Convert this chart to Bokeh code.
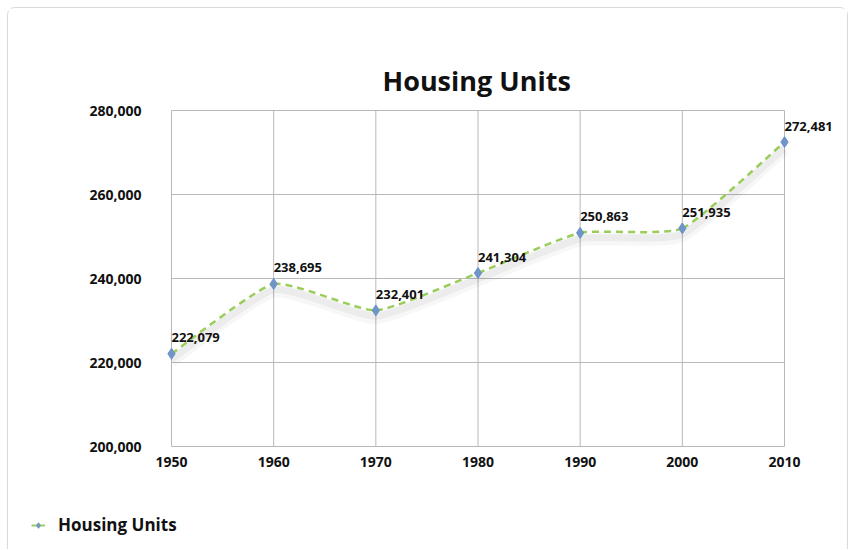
from bokeh.plotting import figure
from bokeh.models import ColumnDataSource, FixedTicker, Legend, LegendItem, NumeralTickFormatter, Range1d
from bokeh.core.properties import value
from bokeh.embed import file_html
from bokeh.resources import INLINE

years = [1950, 1960, 1970, 1980, 1990, 2000, 2010]
units = [222079, 238695, 232401, 241304, 250863, 251935, 272481]
labels = ["222,079", "238,695", "232,401", "241,304", "250,863", "251,935", "272,481"]
y_ticks = [200000, 220000, 240000, 260000, 280000]
series_name = "Housing Units"

FONT = "Open Sans"
LINE_COLOR = "#9ACD5A"
MARK_COLOR = "#6E94C8"
TXT = "#111111"
GRID = "#b8b8b8"

# layout (pixels): the gridded box spans 613 x 336 px; the frame is padded so
# that end markers and labels are not clipped
W, H = 841, 500
BOX_L, BOX_T, BOX_W, BOX_H = 163, 102, 613, 336
PAD_L, PAD_R, PAD_V = 8, 60, 3
xmin, xmax = years[0], years[-1]
ymin, ymax = y_ticks[0], y_ticks[-1]
xs = (xmax - xmin) / BOX_W
ys = (ymax - ymin) / BOX_H

p = figure(width=W, height=H, output_backend="svg", toolbar_location=None,
           x_range=Range1d(xmin - PAD_L * xs, xmax + PAD_R * xs),
           y_range=Range1d(ymin - PAD_V * ys, ymax + PAD_V * ys),
           min_border_left=BOX_L - PAD_L, min_border_right=W - (BOX_L + BOX_W) - PAD_R,
           min_border_top=BOX_T - PAD_V, min_border_bottom=H - (BOX_T + BOX_H) - PAD_V,
           title=series_name)
p.styles = {"margin-left": "7px", "margin-top": "7px",
            "border": "1px solid #dadada", "border-bottom": "none",
            "border-radius": "8px 8px 0 0"}

p.title.align = "left"
p.title.offset = 219
p.title.text_font = FONT
p.title.text_font_size = "27px"
p.title.text_font_style = "bold"
p.title.text_color = TXT
p.title.standoff = 17

p.outline_line_color = None
p.grid.visible = False
p.xaxis.ticker = FixedTicker(ticks=years)
p.yaxis.ticker = FixedTicker(ticks=y_ticks)
p.yaxis.formatter = NumeralTickFormatter(format="0,0")
for ax in (p.xaxis[0], p.yaxis[0]):
    ax.axis_line_color = None
    ax.major_tick_line_color = None
    ax.minor_tick_line_color = None
    ax.major_label_text_font = FONT
    ax.major_label_text_font_size = "14px"
    ax.major_label_text_font_style = "bold"
    ax.major_label_text_color = TXT
p.yaxis.major_label_standoff = 24 - PAD_L
p.xaxis.major_label_standoff = 1

# grid box (gridlines only across the data extent)
p.segment(x0=years, y0=[ymin] * len(years), x1=years, y1=[ymax] * len(years),
          line_color=GRID, line_width=1)
p.segment(x0=[xmin] * len(y_ticks), y0=y_ticks, x1=[xmax] * len(y_ticks), y1=y_ticks,
          line_color=GRID, line_width=1)

# lightly smoothed curve (cubic bezier segments) derived from the data
k = 1 / 12
n = len(years)
x0, y0, x1, y1, cx0, cy0, cx1, cy1 = ([] for _ in range(8))
for i in range(n - 1):
    pm = i - 1 if i > 0 else i
    pp = i + 2 if i + 2 < n else i + 1
    x0.append(years[i]); y0.append(units[i])
    x1.append(years[i + 1]); y1.append(units[i + 1])
    cx0.append(years[i] + (years[i + 1] - years[pm]) * k)
    cy0.append(units[i] + (units[i + 1] - units[pm]) * k)
    cx1.append(years[i + 1] - (years[pp] - years[i]) * k)
    cy1.append(units[i + 1] - (units[pp] - units[i]) * k)
bsrc = ColumnDataSource(dict(x0=x0, y0=y0, x1=x1, y1=y1, cx0=cx0, cy0=cy0, cx1=cx1, cy1=cy1))

# soft shadow below the line
for shift, w, a in ((1800, 12, 0.03), (1400, 7, 0.045)):
    ssrc = ColumnDataSource(dict(x0=x0, y0=[v - shift for v in y0], x1=x1, y1=[v - shift for v in y1],
                                 cx0=cx0, cy0=[v - shift for v in cy0], cx1=cx1, cy1=[v - shift for v in cy1]))
    p.bezier(x0="x0", y0="y0", x1="x1", y1="y1", cx0="cx0", cy0="cy0", cx1="cx1", cy1="cy1",
             source=ssrc, line_color="#000000", line_alpha=a, line_width=w)

p.bezier(x0="x0", y0="y0", x1="x1", y1="y1", cx0="cx0", cy0="cy0", cx1="cx1", cy1="cy1",
         source=bsrc, line_color=LINE_COLOR, line_width=2.5, line_dash="7 5")

src = ColumnDataSource(dict(x=years, y=units, lab=labels))
p.scatter(x="x", y="y", source=src, marker="diamond", size=11,
          fill_color=MARK_COLOR, line_color=MARK_COLOR)
p.text(x="x", y="y", text="lab", source=src, x_offset=0, y_offset=-16,
       text_align="left", text_baseline="alphabetic", text_font=value(FONT),
       text_font_size="13px", text_font_style="bold", text_color=TXT)

# legend strip (separate root, same card)
leg = figure(width=W, height=42, output_backend="svg", toolbar_location=None,
             x_range=Range1d(0, 1), y_range=Range1d(0, 1),
             min_border_left=0, min_border_right=0, min_border_top=0, min_border_bottom=0)
leg.styles = {"margin-left": "7px", "border-left": "1px solid #dadada",
              "border-right": "1px solid #dadada"}
leg.axis.visible = False
leg.grid.visible = False
leg.outline_line_color = None
lr = leg.line(x="x", y="y", source=src, line_color=LINE_COLOR, line_width=2)
ls = leg.scatter(x="x", y="y", source=src, marker="diamond", size=10,
                 fill_color=MARK_COLOR, line_color=MARK_COLOR)
legend = Legend(items=[LegendItem(label=series_name, renderers=[lr, ls])],
                location=(23, 13), padding=0, margin=0, spacing=0,
                glyph_width=14, glyph_height=20, label_standoff=13,
                border_line_color=None, background_fill_alpha=0,
                label_text_font=FONT, label_text_font_size="17px",
                label_text_font_style="bold", label_text_color=TXT)
leg.add_layout(legend, "center")

open("out.html", "w").write(file_html([p, leg], INLINE))
